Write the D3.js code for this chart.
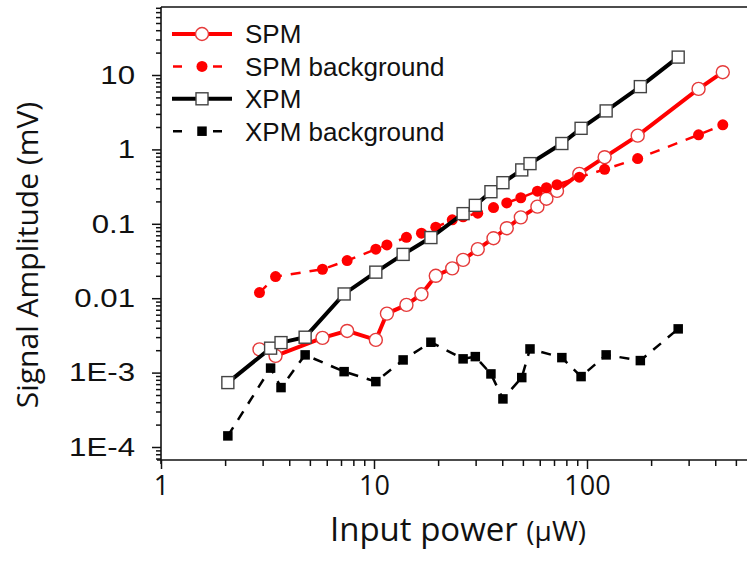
<!DOCTYPE html>
<html>
<head>
<meta charset="utf-8">
<script src="https://cdn.jsdelivr.net/npm/d3@7"></script>
<style>
  body { margin: 0; background: #fff; }
  svg { display: block; }
</style>
</head>
<body>
<div id="chart"></div>
<script>
// datos
const seriesNames = ["SPM", "SPM background", "XPM", "XPM background"]

// SPM y su fondo comparten potencias
const spmPower = [2.90, 3.45, 5.73, 7.48, 10.2, 11.5, 14.2, 16.7, 19.5, 23.3, 26.2, 30.7, 36.4, 42.0, 48.9, 58.5, 64.5, 72.3, 92.0, 121, 173, 334, 434]
const spmSignal = [2.05e-3, 1.68e-3, 2.93e-3, 3.63e-3, 2.75e-3, 6.21e-3, 8.13e-3, 0.0113, 0.0200, 0.0252, 0.0327, 0.0456, 0.064, 0.0873, 0.122, 0.170, 0.217, 0.277, 0.469, 0.786, 1.53, 6.50, 10.9]
const spmBackground = [0.0119, 0.0195, 0.0245, 0.0320, 0.0456, 0.052, 0.0657, 0.0748, 0.090, 0.113, 0.124, 0.139, 0.165, 0.191, 0.224, 0.274, 0.306, 0.336, 0.423, 0.539, 0.752, 1.57, 2.14]

// XPM y su fondo
const xpmPower = [2.06, 3.27, 3.66, 4.75, 7.24, 10.2, 13.7, 18.5, 26.2, 29.9, 35.4, 40.3, 49.4, 54.0, 76.2, 93.8, 123, 178, 268]
const xpmSignal = [7.34e-4, 2.13e-3, 2.53e-3, 2.99e-3, 0.0114, 0.0224, 0.0388, 0.0653, 0.137, 0.177, 0.270, 0.357, 0.530, 0.644, 1.20, 1.92, 3.29, 6.98, 17.4]
const xpmBackground = [1.41e-4, 1.15e-3, 6.29e-4, 1.73e-3, 1.03e-3, 7.57e-4, 1.48e-3, 2.56e-3, 1.53e-3, 1.64e-3, 9.6e-4, 4.43e-4, 8.57e-4, 2.08e-3, 1.59e-3, 8.84e-4, 1.73e-3, 1.45e-3, 3.87e-3]

// ticks
const xTickValues = [1, 10, 100]
const xTickLabels = ["1", "10", "100"]
const yTickValues = [1e-4, 1e-3, 0.01, 0.1, 1, 10]
const yTickLabels = ["1E-4", "1E-3", "0.01", "0.1", "1", "10"]

const width = 747, height = 563
const plotTop = 7, plotBottom = 460, plotLeft = 161, decade = 213

const svg = d3.select("#chart")
  .append("svg")
  .attr("width", width)
  .attr("height", height)
  .style("background", "#fff")

// Escalas
const x = d3.scaleLog().domain([1, 1000]).range([plotLeft, plotLeft + 3 * decade])
const y = d3.scaleLog().domain([1e-4, 10]).range([447, 75])

// minor ticks (2..9 por decada)
const yMinor = []
for (let e = -5; e <= 1; e++) {
  for (let m = 2; m <= 9; m++) {
    const v = m * Math.pow(10, e)
    if (y(v) >= plotTop && y(v) <= plotBottom) yMinor.push(v)
  }
}
const xMinor = []
for (let e = 0; e <= 2; e++) {
  for (let m = 2; m <= 9; m++) {
    const v = m * Math.pow(10, e)
    if (x(v) <= width) xMinor.push(v)
  }
}

const noDomain = g => g.select(".domain").remove()

// Eje Y
svg.append("g")
  .attr("transform", `translate(${plotLeft},0)`)
  .call(d3.axisLeft(y).tickValues(yMinor).tickSize(5).tickFormat(""))
  .call(noDomain)
svg.append("g")
  .attr("transform", `translate(${plotLeft},0)`)
  .call(d3.axisLeft(y).tickValues(yTickValues).tickSize(9).tickPadding(17)
    .tickFormat((d, i) => yTickLabels[i]))
  .call(noDomain)
  .call(g => g.selectAll("text")
    .attr("x", null)
    .attr("transform", "translate(-26,0) scale(1.2,1)")  // etiquetas mas anchas
    .attr("font-family", "'Liberation Sans', Arial, sans-serif")
    .attr("font-size", 26)
    .attr("fill", "#111"))

// Eje X
svg.append("g")
  .attr("transform", `translate(0,${plotBottom})`)
  .call(d3.axisBottom(x).tickValues(xMinor).tickSize(6).tickFormat(""))
  .call(noDomain)
svg.append("g")
  .attr("transform", `translate(0,${plotBottom})`)
  .call(d3.axisBottom(x).tickValues(xTickValues).tickSize(9).tickPadding(7)
    .tickFormat((d, i) => xTickLabels[i]))
  .call(noDomain)
  .call(g => g.selectAll("text")
    .attr("font-family", "'Open Sans', sans-serif")
    .attr("font-size", 27)
    .attr("fill", "#111"))

svg.selectAll(".tick line").attr("stroke", "#111").attr("stroke-width", 1.5)

// marco
const frame = svg.append("g").attr("stroke", "#111").attr("stroke-width", 1.6)
frame.append("line").attr("x1", plotLeft).attr("x2", plotLeft).attr("y1", plotTop).attr("y2", plotBottom + 4)
frame.append("line").attr("x1", plotLeft - 4).attr("x2", width).attr("y1", plotBottom).attr("y2", plotBottom)
frame.append("line").attr("x1", plotLeft).attr("x2", width).attr("y1", plotTop).attr("y2", plotTop)

// Titulos
svg.append("text")
  .attr("transform", "translate(38,255) rotate(-90)")
  .attr("text-anchor", "middle")
  .attr("font-family", "'Open Sans', sans-serif")
  .attr("font-size", 30)
  .attr("fill", "#111")
  .text("Signal Amplitude (mV)")

const xTitle = svg.append("text")
  .attr("x", 458)
  .attr("y", 541)
  .attr("text-anchor", "middle")
  .attr("font-family", "'Open Sans', sans-serif")
  .attr("fill", "#111")
xTitle.append("tspan").attr("font-size", 33).text("Input power ")
xTitle.append("tspan").attr("font-size", 28).text("(\u03bcW)")

// Series
const series = [
  { name: seriesNames[0], power: spmPower, values: spmSignal, color: "#ff0000", width: 4, dash: null, marker: "circle", fill: "#fff", stroke: "#e53a3a", size: 6.5 },
  { name: seriesNames[1], power: spmPower, values: spmBackground, color: "#ff0000", width: 2.5, dash: "10,9", marker: "circle", fill: "#ff0000", stroke: "none", size: 5.5 },
  { name: seriesNames[2], power: xpmPower, values: xpmSignal, color: "#000", width: 4, dash: null, marker: "square", fill: "#fff", stroke: "#444", size: 12 },
  { name: seriesNames[3], power: xpmPower, values: xpmBackground, color: "#000", width: 2.5, dash: "10,9", marker: "square", fill: "#000", stroke: "none", size: 9.5 }
]

const line = d3.line().x(d => x(d[0])).y(d => y(d[1]))

function drawMarker(g, s, cx, cy) {
  if (s.marker === "circle") {
    g.append("circle").attr("cx", cx).attr("cy", cy).attr("r", s.size)
      .attr("fill", s.fill).attr("stroke", s.stroke).attr("stroke-width", 1.4)
  } else {
    g.append("rect").attr("x", cx - s.size / 2).attr("y", cy - s.size / 2)
      .attr("width", s.size).attr("height", s.size)
      .attr("fill", s.fill).attr("stroke", s.stroke).attr("stroke-width", 1.4)
  }
}

series.forEach(s => {
  const pts = d3.zip(s.power, s.values)
  const g = svg.append("g")
  g.append("path")
    .datum(pts)
    .attr("d", line)
    .attr("fill", "none")
    .attr("stroke", s.color)
    .attr("stroke-width", s.width)
    .attr("stroke-dasharray", s.dash)
  pts.forEach(p => drawMarker(g, s, x(p[0]), y(p[1])))
})

// Leyenda
const legend = svg.append("g")
series.forEach((s, i) => {
  const ly = 34 + i * 32.4
  const row = legend.append("g")
  if (s.dash) {
    row.append("line").attr("x1", 173).attr("x2", 222).attr("y1", ly).attr("y2", ly)
      .attr("stroke", s.color).attr("stroke-width", s.width).attr("stroke-dasharray", "9,31")
  } else {
    row.append("line").attr("x1", 172).attr("x2", 232).attr("y1", ly).attr("y2", ly)
      .attr("stroke", s.color).attr("stroke-width", s.width)
  }
  drawMarker(row, s, 202, ly)
  row.append("text")
    .attr("x", 245)
    .attr("y", ly)
    .attr("dy", "0.36em")
    .attr("font-family", "'Liberation Sans', Arial, sans-serif")
    .attr("font-size", 26)
    .attr("fill", "#111")
    .text(s.name)
})
</script>
</body>
</html>
